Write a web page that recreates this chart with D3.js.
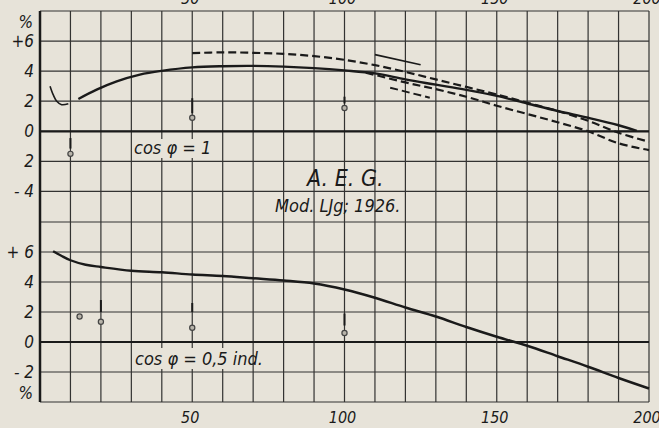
<!DOCTYPE html>
<html>
<head>
<meta charset="utf-8">
<script src="https://cdn.jsdelivr.net/npm/d3@7"></script>
<style>
  html, body { margin: 0; padding: 0; background: #e7e3d9; }
  svg { display: block; }
  text { font-family: "Liberation Sans Narrow", "DejaVu Sans Condensed", sans-serif; font-style: italic; fill: #1a1a1a; }
</style>
</head>
<body>
<div id="chart"></div>
<script>
'use strict'

// x axis (load, %) ticks
const xTicks = [50, 100, 150, 200]

// y tick labels, upper panel (cos phi = 1) and lower panel (cos phi = 0,5 ind)
const topTickVals = [6, 4, 2, 0, -2, -4]
const topTickText = ['+6', '4', '2', '0', '2', '- 4']
const botTickVals = [6, 4, 2, 0, -2]
const botTickText = ['+ 6', '4', '2', '0', '- 2']

// upper panel curves
const hook = [[3.3, 3.0], [4.4, 2.4], [5.5, 2.0], [7.1, 1.77], [9.3, 1.83]]
const solidTop = [[12.6, 2.15], [18.6, 2.77], [25.2, 3.32], [32.8, 3.77], [40, 4.02], [50, 4.25],
  [60, 4.33], [70, 4.35], [80, 4.3], [90, 4.2], [100, 4.05], [110, 3.85], [120, 3.45],
  [130, 3.1], [140, 2.75], [150, 2.35], [160, 1.85], [170, 1.35], [180, 0.9], [190, 0.4], [196, 0.02]]
const dashUpper = [[50, 5.2], [60, 5.25], [70, 5.22], [80, 5.15], [90, 5.0], [100, 4.75], [110, 4.4],
  [120, 3.95], [130, 3.45], [140, 2.95], [150, 2.45], [160, 1.9], [170, 1.35], [180, 0.7], [190, -0.1], [200, -0.7]]
const dashLower = [[107, 3.9], [120, 3.25], [130, 2.8], [140, 2.3], [150, 1.7], [160, 1.15],
  [170, 0.6], [180, 0.0], [190, -0.8], [200, -1.25]]
const thinShort = [[110, 5.1], [125, 4.43]]
const dashShort = [[115, 2.9], [128, 2.23]]
// measured points: [x, y, tick from, tick to]
const topPoints = [[10, -1.5, -1.15, -0.45], [50, 0.9, 1.2, 2.2], [100, 1.55, 1.85, 2.3]]

// lower panel
const solidBot = [[4.3, 6.05], [7, 5.75], [10, 5.45], [15, 5.15], [20, 5.0], [30, 4.75], [40, 4.65],
  [50, 4.5], [60, 4.4], [70, 4.25], [80, 4.1], [90, 3.9], [100, 3.5], [110, 2.95], [120, 2.3],
  [130, 1.7], [140, 1.0], [150, 0.35], [160, -0.25], [170, -0.95], [180, -1.65], [190, -2.4], [200, -3.1]]
const botPoints = [[13, 1.7, null, null], [20, 1.35, 2.0, 2.8], [50, 0.95, 2.0, 2.6], [100, 0.6, 1.1, 1.9]]

const width = 659
const height = 428
const ink = '#1a1a1a'
const paper = '#e7e3d9'

const svg = d3.select('#chart')
  .append('svg')
  .attr('width', width)
  .attr('height', height)

const x = d3.scaleLinear().domain([0, 200]).range([40, 649])
const yTop = d3.scaleLinear().domain([8, -6]).range([11, 221.5])
const yBot = d3.scaleLinear().domain([8, -4]).range([222, 402])

// grid
const grid = svg.append('g').attr('stroke', '#202020').attr('stroke-width', 1.2).attr('opacity', 0.9)
grid.selectAll('line.v')
  .data(d3.range(10, 201, 10))
  .enter().append('line')
  .attr('x1', d => x(d)).attr('x2', d => x(d))
  .attr('y1', yTop(8)).attr('y2', yBot(-4))
grid.selectAll('line.ht')
  .data(d3.range(8, -5, -2))
  .enter().append('line')
  .attr('x1', x(0)).attr('x2', x(200))
  .attr('y1', d => yTop(d)).attr('y2', d => yTop(d))
grid.selectAll('line.hb')
  .data(d3.range(8, -5, -2))
  .enter().append('line')
  .attr('x1', x(0)).attr('x2', x(200))
  .attr('y1', d => yBot(d)).attr('y2', d => yBot(d))

// zero lines and left axis
svg.append('line').attr('x1', x(0)).attr('x2', x(200))
  .attr('y1', yTop(0)).attr('y2', yTop(0)).attr('stroke', ink).attr('stroke-width', 2.2)
svg.append('line').attr('x1', x(0)).attr('x2', x(200))
  .attr('y1', yBot(0)).attr('y2', yBot(0)).attr('stroke', ink).attr('stroke-width', 2.2)
svg.append('line').attr('x1', x(0)).attr('x2', x(0))
  .attr('y1', yTop(8)).attr('y2', yBot(-4)).attr('stroke', ink).attr('stroke-width', 2.5)

// text boxes that blank the grid
svg.append('rect').attr('x', 134).attr('y', 139).attr('width', 70).attr('height', 19).attr('fill', paper)
svg.append('rect').attr('x', 134).attr('y', 348).attr('width', 117).attr('height', 21).attr('fill', paper)

// curves
const lineTop = d3.line().x(d => x(d[0])).y(d => yTop(d[1])).curve(d3.curveCatmullRom)
const lineBot = d3.line().x(d => x(d[0])).y(d => yBot(d[1])).curve(d3.curveCatmullRom)

svg.append('path').attr('d', lineTop(hook)).attr('fill', 'none').attr('stroke', ink).attr('stroke-width', 1.6)
svg.append('path').attr('d', lineTop(solidTop)).attr('fill', 'none').attr('stroke', ink).attr('stroke-width', 2.4)
svg.append('path').attr('d', lineTop(dashUpper)).attr('fill', 'none').attr('stroke', ink)
  .attr('stroke-width', 2.2).attr('stroke-dasharray', '8,4')
svg.append('path').attr('d', lineTop(dashLower)).attr('fill', 'none').attr('stroke', ink)
  .attr('stroke-width', 2.2).attr('stroke-dasharray', '8,4')
svg.append('path').attr('d', lineTop(thinShort)).attr('fill', 'none').attr('stroke', ink).attr('stroke-width', 1.6)
svg.append('path').attr('d', lineTop(dashShort)).attr('fill', 'none').attr('stroke', ink)
  .attr('stroke-width', 2).attr('stroke-dasharray', '8,4')
svg.append('path').attr('d', lineBot(solidBot)).attr('fill', 'none').attr('stroke', ink).attr('stroke-width', 2.4)

// measured points
const drawPoints = function(pts, y) {
  const g = svg.append('g')
  g.selectAll('line')
    .data(pts.filter(d => d[2] !== null))
    .enter().append('line')
    .attr('x1', d => x(d[0])).attr('x2', d => x(d[0]))
    .attr('y1', d => y(d[2])).attr('y2', d => y(d[3]))
    .attr('stroke', ink).attr('stroke-width', 2)
  g.selectAll('circle')
    .data(pts)
    .enter().append('circle')
    .attr('cx', d => x(d[0])).attr('cy', d => y(d[1]))
    .attr('r', 2.6)
    .attr('fill', '#b8b4aa').attr('stroke', '#444').attr('stroke-width', 1.2)
}
drawPoints(topPoints, yTop)
drawPoints(botPoints, yBot)

// y labels
const lab = svg.append('g').attr('font-size', 17).attr('text-anchor', 'end')
lab.selectAll('text.t')
  .data(topTickVals)
  .enter().append('text')
  .attr('x', 34).attr('y', d => yTop(d) + 6)
  .text((d, i) => topTickText[i])
lab.selectAll('text.b')
  .data(botTickVals)
  .enter().append('text')
  .attr('x', 34).attr('y', d => yBot(d) + 6)
  .text((d, i) => botTickText[i])
lab.append('text').attr('x', 33).attr('y', yTop(7.3) + 6).text('%')
lab.append('text').attr('x', 33).attr('y', yBot(-3.4) + 6).text('%')

// x labels, bottom and (cut off by the page edge, as in the scan) top
const xl = svg.append('g').attr('font-size', 16).attr('text-anchor', 'middle')
xl.selectAll('text.b')
  .data(xTicks)
  .enter().append('text')
  .attr('x', d => x(d) - 2).attr('y', 423)
  .text(d => d)
xl.selectAll('text.t')
  .data(xTicks)
  .enter().append('text')
  .attr('x', d => x(d) - 2).attr('y', 4)
  .text(d => d)

// annotations
svg.append('text').attr('x', 134).attr('y', 154).attr('font-size', 18).text('cos φ = 1')
svg.append('text').attr('x', 307).attr('y', 186).attr('font-size', 23).text('A. E. G.')
svg.append('text').attr('x', 275).attr('y', 212).attr('font-size', 18).text('Mod. LJg; 1926.')
svg.append('text').attr('x', 135).attr('y', 365).attr('font-size', 18).text('cos φ = 0,5 ind.')
</script>
</body>
</html>
